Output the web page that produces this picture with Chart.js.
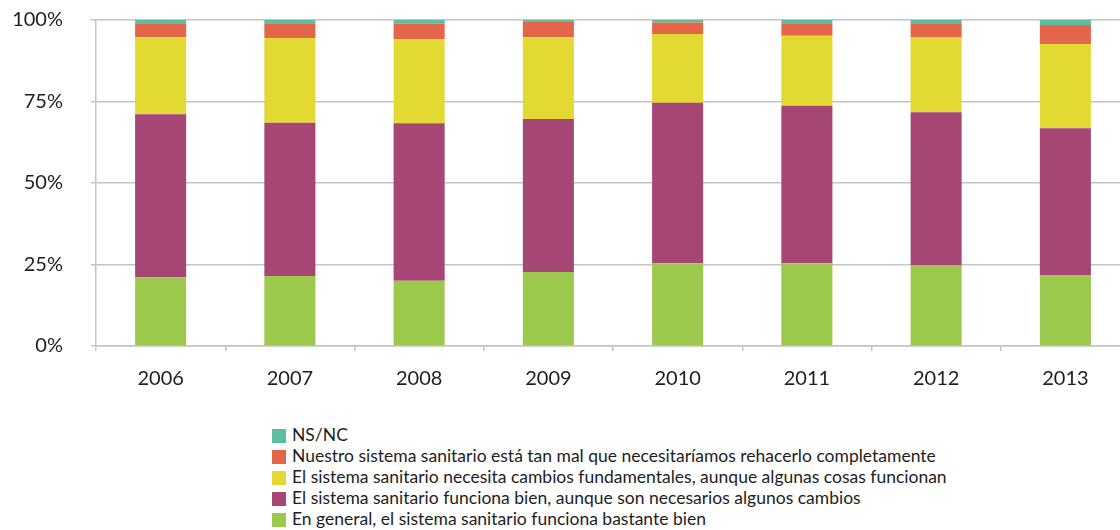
<!DOCTYPE html>
<html>
<head>
<meta charset="utf-8">
<script src="https://cdn.jsdelivr.net/npm/chart.js@4.4.1/dist/chart.umd.min.js"></script>
<style>
  html, body { margin: 0; padding: 0; background: #fff; overflow: hidden; }
  #wrap { position: relative; width: 1130px; height: 400px; }
  #legend { position: absolute; left: 272px; top: 424px; font-family: Lato, sans-serif; font-size: 17.5px; color: #1e1e1e; }
  #legend div { height: 21px; line-height: 21px; white-space: nowrap; }
  #legend span.box { display: inline-block; width: 14px; height: 14px; margin-right: 6px; vertical-align: -2px; }
</style>
</head>
<body>
<div id="wrap"><canvas id="myChart"></canvas></div>
<div id="legend"></div>
<script>
// values in percent
var years = ['2006', '2007', '2008', '2009', '2010', '2011', '2012', '2013'];
var bastanteBien = [21.1, 21.5, 20.0, 22.7, 25.4, 25.4, 24.7, 21.6];
var algunosCambios = [50.0, 47.0, 48.3, 46.9, 49.2, 48.3, 47.0, 45.2];
var cambiosFundamentales = [23.6, 26.0, 25.8, 25.1, 21.1, 21.5, 22.9, 25.8];
var rehacerlo = [4.3, 4.5, 4.8, 4.7, 3.5, 3.8, 4.4, 5.9];
var nsnc = [1.0, 1.0, 1.1, 0.6, 0.8, 1.0, 1.0, 1.5];
var yTicks = [0, 25, 50, 75, 100];

var ctx = document.getElementById('myChart').getContext('2d');

var graphData = {
    type: 'bar',
    data: {
        labels: years,
        datasets: [
            { label: 'En general, el sistema sanitario funciona bastante bien', data: bastanteBien, backgroundColor: '#9cc84c' },
            { label: 'El sistema sanitario funciona bien, aunque son necesarios algunos cambios', data: algunosCambios, backgroundColor: '#a64674' },
            { label: 'El sistema sanitario necesita cambios fundamentales, aunque algunas cosas funcionan', data: cambiosFundamentales, backgroundColor: '#e2d932' },
            { label: 'Nuestro sistema sanitario está tan mal que necesitaríamos rehacerlo completamente', data: rehacerlo, backgroundColor: '#e5654a' },
            { label: 'NS/NC', data: nsnc, backgroundColor: '#5dbe9f' }
        ]
    },
    options: {
        responsive: false,
        animation: false,
        layout: { padding: { top: 20, right: 0, left: 0, bottom: 0 } },
        datasets: { bar: { categoryPercentage: 1, barPercentage: 0.395, borderWidth: 0 } },
        plugins: { legend: { display: false }, tooltip: { enabled: false } },
        scales: {
            x: {
                stacked: true,
                grid: { offset: true, drawOnChartArea: false, drawTicks: true, tickLength: 5, color: '#c4c4c4', lineWidth: 1.5 },
                border: { color: '#c4c4c4', width: 1.5 },
                ticks: { color: '#1e1e1e', font: { family: 'Lato', size: 20 }, padding: 16 },
                afterFit: function (s) { s.height = 54; s.paddingLeft = 0; s.paddingRight = 0; }
            },
            y: {
                stacked: true,
                min: 0,
                max: 100,
                afterBuildTicks: function (s) { s.ticks = yTicks.map(function (v) { return { value: v }; }); },
                grid: { color: '#c4c4c4', lineWidth: 1.5, tickLength: 5 },
                border: { color: '#c4c4c4', width: 1.5 },
                ticks: { color: '#1e1e1e', font: { family: 'Lato', size: 20 }, padding: 28,
                    callback: function (v) { return v + '%'; } },
                afterFit: function (s) { s.width = 96; s.paddingTop = 0; s.paddingBottom = 0; }
            }
        }
    }
};

var canvas = document.getElementById('myChart');
canvas.width = 1130;
canvas.height = 400;
var myChart = new Chart(ctx, graphData);

// legend, one item per line, top item first
var legendEl = document.getElementById('legend');
graphData.data.datasets.slice().reverse().forEach(function (ds) {
    var row = document.createElement('div');
    var box = document.createElement('span');
    box.className = 'box';
    box.style.background = ds.backgroundColor;
    row.appendChild(box);
    row.appendChild(document.createTextNode(ds.label));
    legendEl.appendChild(row);
});
</script>
</body>
</html>
